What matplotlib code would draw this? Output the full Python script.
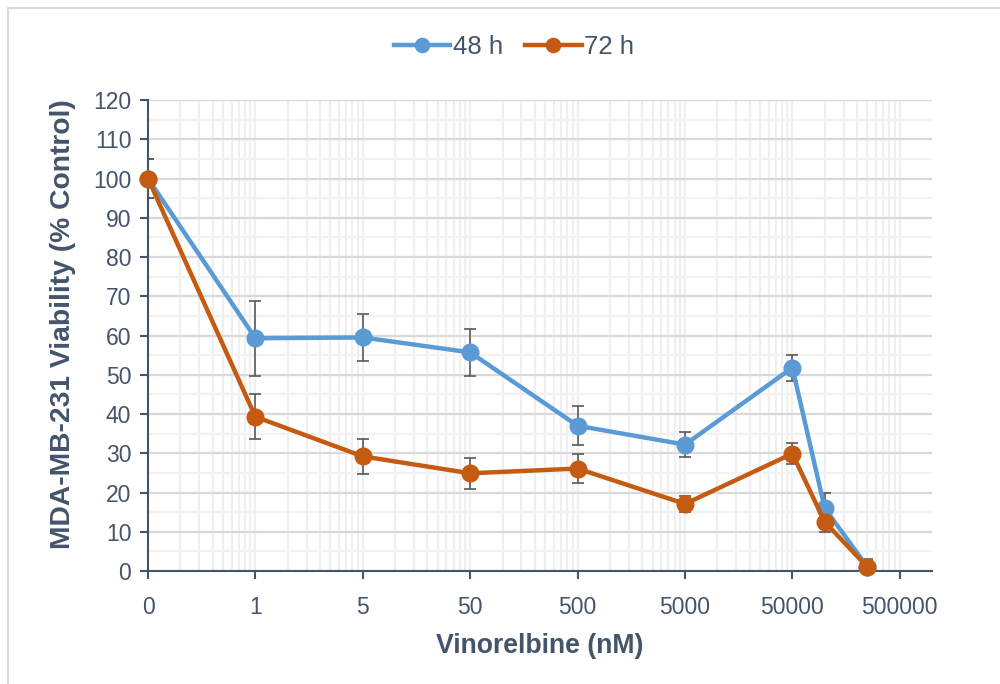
import numpy as np
import matplotlib
matplotlib.use('Agg')
import matplotlib.pyplot as plt
from matplotlib.patches import Rectangle
from matplotlib.ticker import FixedLocator, NullFormatter

# ---------------
# Data
# ---------------
# Excel log axis: the "0" and "1" doses sit one decade apart below 5 nM
conc = [0.05, 0.5, 5, 50, 500, 5000, 50000, 100000, 250000]
via_48 = [100, 59.3, 59.5, 55.7, 37.0, 32.2, 51.8, 16.0, 1.0]
err_48 = [5.0, 9.5, 6.0, 6.0, 5.0, 3.2, 3.3, 4.0, 2.0]
via_72 = [100, 39.3, 29.2, 24.9, 26.1, 17.1, 29.9, 12.5, 1.0]
err_72 = [5.0, 5.7, 4.5, 4.0, 3.8, 2.0, 2.7, 2.5, 1.0]

tick_pos = [0.05, 0.5, 5, 50, 500, 5000, 50000, 500000]
tick_lab = ['0', '1', '5', '50', '500', '5000', '50000', '500000']

blue = '#5B9BD5'
orange = '#C55A11'
txt = '#44546A'

plt.rcParams['font.family'] = ['Liberation Sans', 'DejaVu Sans']

fig = plt.figure(figsize=(10, 6.84), dpi=100)
ax = fig.add_axes([0.148, 0.1652, 0.784, 0.6886])

# outer chart frame
fig.patches.append(Rectangle((8 / 1000, -0.1), 1.2, 1.1 - 8 / 684,
                             transform=fig.transFigure, fill=False,
                             edgecolor='#D9D9D9', lw=1.5))

ax.set_xscale('log')
ax.set_xlim(0.05, 500000 * 10 ** 0.3)
ax.set_ylim(0, 120)

# minor grid positions on the shifted decades
decades = 0.05 * 10.0 ** np.arange(0, 8)
minor = (decades[:, None] * np.arange(2, 10)[None, :]).ravel()
ax.xaxis.set_major_locator(FixedLocator(tick_pos))
ax.xaxis.set_minor_locator(FixedLocator(minor))
ax.xaxis.set_minor_formatter(NullFormatter())
ax.set_xticks(tick_pos)
ax.set_xticklabels(tick_lab)

ax.set_yticks(np.arange(0, 121, 10))
ax.yaxis.set_minor_locator(FixedLocator(np.arange(5, 120, 10)))

ax.grid(axis='y', which='major', color='#D9D9D9', lw=1.6, zorder=0)
ax.grid(axis='y', which='minor', color='#F2F2F2', lw=1.6, zorder=0)
ax.grid(axis='x', which='both', color='#F0F0F0', lw=1.6, zorder=0)
ax.set_axisbelow(True)

for s in ['top', 'right']:
    ax.spines[s].set_visible(False)
for s in ['left', 'bottom']:
    ax.spines[s].set_color(txt)
    ax.spines[s].set_linewidth(1.5)

ax.tick_params(axis='both', which='major', colors=txt, labelsize=16.5,
               length=6, width=1.5, direction='out')
ax.tick_params(axis='y', which='major', pad=6)
ax.tick_params(axis='x', which='major', pad=12)
ax.tick_params(axis='both', which='minor', length=0)

ax.errorbar(conc, via_48, yerr=err_48, fmt='none', ecolor='#595959',
            elinewidth=1.2, capsize=4, capthick=1.2, zorder=2)
ax.errorbar(conc, via_72, yerr=err_72, fmt='none', ecolor='#595959',
            elinewidth=1.2, capsize=4, capthick=1.2, zorder=2)
ax.plot(conc, via_48, '-o', color=blue, lw=3.2, ms=12, label='48 h',
        zorder=3, clip_on=False)
ax.plot(conc, via_72, '-o', color=orange, lw=3.2, ms=12, label='72 h',
        zorder=4, clip_on=False)

ax.set_xlabel('Vinorelbine (nM)', fontsize=19.2, fontweight='bold',
              color=txt, labelpad=10)
ax.set_ylabel('MDA-MB-231 Viability (% Control)', fontsize=20.3,
              fontweight='bold', color=txt, labelpad=12)
ax.yaxis.label.set_y(0.524)

leg = fig.legend(loc='center', bbox_to_anchor=(0.514, 0.931), ncol=2,
                 frameon=False, fontsize=18.5, handlelength=2.2,
                 handletextpad=0.1, columnspacing=0.85, markerscale=0.85)
for t in leg.get_texts():
    t.set_color(txt)

fig.savefig('out.png', dpi=100)
